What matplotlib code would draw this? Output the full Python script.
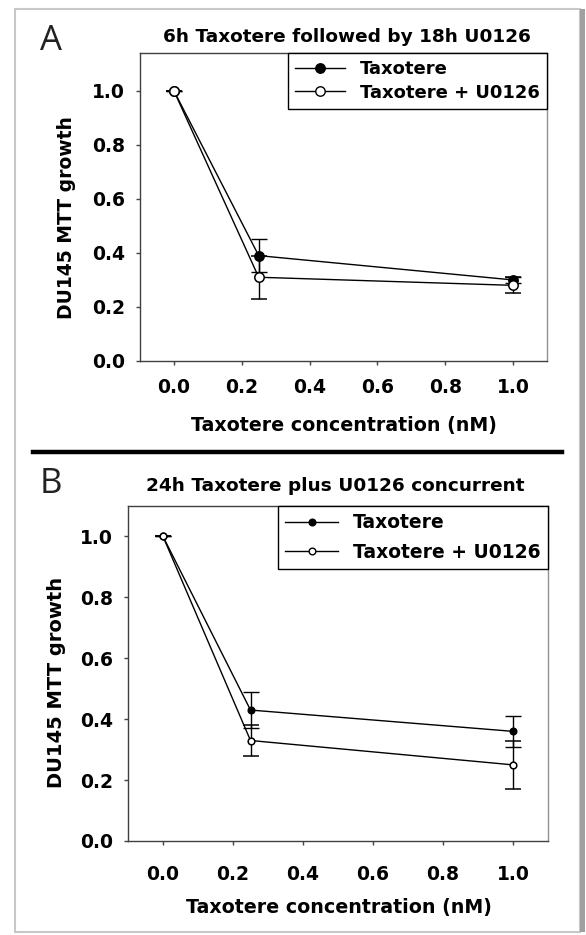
import matplotlib
matplotlib.use("Agg")
import matplotlib.pyplot as plt
from matplotlib.patches import Rectangle
from matplotlib.lines import Line2D

plt.rcParams['font.family'] = ['DejaVu Sans']

# data
conc = [0.0, 0.25, 1.0]

a_taxo = [1.0, 0.39, 0.30]
a_taxo_err = [0.0, 0.06, 0.01]
a_combo = [1.0, 0.31, 0.28]
a_combo_err = [0.0, 0.08, 0.03]

b_taxo = [1.0, 0.43, 0.36]
b_taxo_err = [0.0, 0.06, 0.05]
b_combo = [1.0, 0.33, 0.25]
b_combo_err = [0.0, 0.05, 0.08]

ticks = [0.0, 0.2, 0.4, 0.6, 0.8, 1.0]
labels = ['Taxotere', 'Taxotere + U0126']
titles = ['6h Taxotere followed by 18h U0126', '24h Taxotere plus U0126 concurrent']
xlab = 'Taxotere concentration (nM)'
ylab = 'DU145 MTT growth'

W, H = 586, 935
fig = plt.figure(figsize=(W / 100, H / 100), dpi=100)


def px(x0, y0, x1, y1):
    # pixel box (top-left origin) -> figure fraction rect
    return [x0 / W, 1 - y1 / H, (x1 - x0) / W, (y1 - y0) / H]


def panel(rect, ytop, taxo, taxo_err, combo, combo_err, ms, xpad, fs_leg, lspace):
    ax = fig.add_axes(rect)
    ax.errorbar(conc, taxo, yerr=taxo_err, color='black', lw=1, marker='o', ms=ms,
                mfc='black', mec='black', capsize=5.5, elinewidth=1, capthick=1,
                zorder=3)
    ax.errorbar(conc, combo, yerr=combo_err, color='black', lw=1, marker='o', ms=ms,
                mfc='white', mec='black', mew=1.1, capsize=5.5, elinewidth=1, capthick=1,
                zorder=4)
    ax.set_xlim(-0.1, 1.1)
    ax.set_ylim(0, ytop)
    ax.set_xticks(ticks)
    ax.set_yticks(ticks)
    ax.set_xticklabels([f'{t:.1f}' for t in ticks])
    ax.set_yticklabels([f'{t:.1f}' for t in ticks])
    ax.tick_params(direction='out', length=3, width=1, color='#444444', labelsize=13.5)
    ax.yaxis.set_tick_params(pad=8)
    ax.xaxis.set_tick_params(pad=xpad)
    for lab in ax.get_xticklabels() + ax.get_yticklabels():
        lab.set_fontweight('bold')
    for name, sp in ax.spines.items():
        sp.set_linewidth(1)
        sp.set_color('#909090' if name == 'right' else '#404040')
    handles = [Line2D([], [], color='black', lw=1, marker='o', ms=ms, mfc='black', mec='black'),
               Line2D([], [], color='black', lw=1, marker='o', ms=ms, mfc='white', mec='black')]
    leg = ax.legend(handles, labels, loc='upper right', bbox_to_anchor=(1, 1),
                    borderaxespad=0, fancybox=False, framealpha=1, edgecolor='black',
                    handlelength=2.8, handletextpad=0.8, labelspacing=lspace,
                    borderpad=0.4, prop={'weight': 'bold', 'size': fs_leg})
    leg.get_frame().set_linewidth(1)
    return ax


panel(px(140, 53, 547, 361), 1.14, a_taxo, a_taxo_err, a_combo, a_combo_err, 6.8, 9, 13, 0.3)
panel(px(128, 506, 548, 841), 1.1, b_taxo, b_taxo_err, b_combo, b_combo_err, 4.8, 14, 13.5, 0.55)

# titles, panel letters and axis labels
fig.text(347 / W, 1 - 37 / H, titles[0], ha='center', va='center', fontsize=13.3, fontweight='bold')
fig.text(335 / W, 1 - 486 / H, titles[1], ha='center', va='center', fontsize=13.3, fontweight='bold')
fig.text(51 / W, 1 - 41 / H, 'A', ha='center', va='center', fontsize=25, family='Open Sans', color='#222222')
fig.text(51 / W, 1 - 484 / H, 'B', ha='center', va='center', fontsize=25, family='Open Sans', color='#222222')
fig.text(344 / W, 1 - 425 / H, xlab, ha='center', va='center', fontsize=13.7, fontweight='bold')
fig.text(339 / W, 1 - 908 / H, xlab, ha='center', va='center', fontsize=13.7, fontweight='bold')
fig.text(67 / W, 1 - 218 / H, ylab, ha='center', va='center', rotation=90, fontsize=13.5, fontweight='bold')
fig.text(56 / W, 1 - 682 / H, ylab, ha='center', va='center', rotation=90, fontsize=14, fontweight='bold')

# separator bar between panels
fig.add_artist(Line2D([33 / W, 562 / W], [1 - 452 / H, 1 - 452 / H], color='black', lw=3.2))

# grey frame around the figure
fig.add_artist(Rectangle((15 / W, 1 - 932 / H), 565 / W, 923 / H, fill=False,
                         edgecolor='#c8c8c8', lw=1.5))
fig.add_artist(Rectangle((580 / W, 1 - 932 / H), 5 / W, 923 / H, facecolor='#a0a0a0',
                         edgecolor='none'))

fig.savefig('out.png', dpi=100)
